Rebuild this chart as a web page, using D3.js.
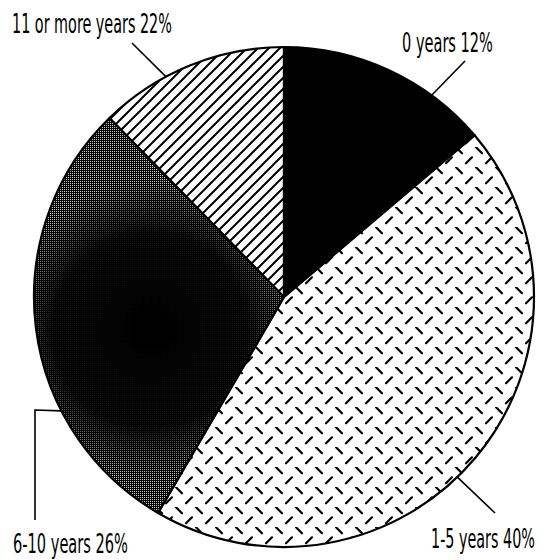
<!DOCTYPE html>
<html>
<head>
<meta charset="utf-8">
<script src="https://cdn.jsdelivr.net/npm/d3@7"></script>
<style>
  body { margin: 0; background: #fff; }
  svg { display: block; }
  .label { font-family: "Liberation Sans Narrow", "DejaVu Sans Condensed", "Roboto", sans-serif; font-size: 27px; fill: #000; }
</style>
</head>
<body>
<script>
var width = 547, height = 560;
var cx = 284, cy = 297, radius = 250;

// categories and the percentages printed on the labels
var categories = ['0 years', '1-5 years', '6-10 years', '11 or more years'];
var labelPercents = [12, 40, 26, 22];
// share of the circle each slice actually takes in the picture
var sliceShares = [13.8, 44.6, 29.3, 12.3];

var fills = ['#000', 'url(#dashes)', 'url(#halftone)', 'url(#stripes)'];

// label layout: angle (deg, clockwise from top) where the leader touches the rim,
// the leader's outer end, and the text box
var labelLayout = [
  {angle: 36.2, out: [[465, 61]], tx: 402, ty: 52, tw: 91},
  {angle: 136.1, out: [[495, 513]], tx: 431, ty: 548, tw: 104},
  {angle: 242.9, out: [[35, 410], [35, 520]], tx: 13, ty: 553, tw: 115},
  {angle: 331.8, out: [[132, 43]], tx: 12, ty: 33, tw: 160}
];

var svg = d3.select('body').append('svg')
    .attr('width', width)
    .attr('height', height);

var defs = svg.append('defs');

// dashed "diamond plate" fill for 1-5 years
var dashes = defs.append('pattern')
    .attr('id', 'dashes')
    .attr('patternUnits', 'userSpaceOnUse')
    .attr('width', 20).attr('height', 20)
    .attr('x', 0).attr('y', 10);
dashes.append('rect').attr('width', 20).attr('height', 20).attr('fill', '#fff');
dashes.append('line')
    .attr('x1', 12).attr('y1', 0.3).attr('x2', 18).attr('y2', 6.3)
    .attr('stroke', '#000').attr('stroke-width', 2.2).attr('stroke-linecap', 'round');
dashes.append('line')
    .attr('x1', 2).attr('y1', 16.3).attr('x2', 8).attr('y2', 10.3)
    .attr('stroke', '#000').attr('stroke-width', 2.2).attr('stroke-linecap', 'round');

// "/" hatching for 11 or more years
var hs = 11;
var stripes = defs.append('pattern')
    .attr('id', 'stripes')
    .attr('patternUnits', 'userSpaceOnUse')
    .attr('width', hs).attr('height', hs);
stripes.append('rect').attr('width', hs).attr('height', hs).attr('fill', '#fff');
stripes.append('path')
    .attr('d', 'M-1,' + (hs + 1) + 'L' + (hs + 1) + ',-1 M-1,1 L1,-1 M' + (hs - 1) + ',' + (hs + 1) + 'L' + (hs + 1) + ',' + (hs - 1))
    .attr('stroke', '#000').attr('stroke-width', 2);

// halftone checker for 6-10 years
var halftone = defs.append('pattern')
    .attr('id', 'halftone')
    .attr('patternUnits', 'userSpaceOnUse')
    .attr('width', 2).attr('height', 2);
halftone.append('rect').attr('width', 2).attr('height', 2).attr('fill', '#000');
halftone.append('rect').attr('x', 0).attr('y', 0).attr('width', 1).attr('height', 1).attr('fill', '#eee');

var blob = defs.append('radialGradient')
    .attr('id', 'blob')
    .attr('gradientUnits', 'userSpaceOnUse')
    .attr('cx', 150).attr('cy', 330).attr('r', 150);
blob.append('stop').attr('offset', '0%').attr('stop-color', '#000').attr('stop-opacity', 1);
blob.append('stop').attr('offset', '65%').attr('stop-color', '#000').attr('stop-opacity', 0.9);
blob.append('stop').attr('offset', '100%').attr('stop-color', '#000').attr('stop-opacity', 0.15);

var pie = d3.pie().sort(null).value(function(d) { return d; });
var arcs = pie(sliceShares);
var arc = d3.arc().innerRadius(0).outerRadius(radius);

var g = svg.append('g').attr('transform', 'translate(' + cx + ',' + cy + ')');

defs.append('clipPath').attr('id', 'darkclip')
  .append('path')
    .attr('d', arc(arcs[2]))
    .attr('transform', 'translate(' + cx + ',' + cy + ')');

g.selectAll('.slice')
    .data(arcs)
    .enter().append('path')
    .attr('class', 'slice')
    .attr('d', arc)
    .attr('fill', function(d, i) { return fills[i]; });

// darker core of the halftone slice
svg.append('rect')
    .attr('width', width).attr('height', height)
    .attr('fill', 'url(#blob)')
    .attr('clip-path', 'url(#darkclip)');

svg.append('g').attr('transform', 'translate(' + cx + ',' + cy + ')')
  .selectAll('.edge')
    .data(arcs)
    .enter().append('path')
    .attr('class', 'edge')
    .attr('d', arc)
    .attr('fill', 'none')
    .attr('stroke', '#000')
    .attr('stroke-width', 2.2)
    .attr('stroke-linejoin', 'round');

// leaders and labels
var rad = Math.PI / 180;
labelLayout.forEach(function(l, i) {
  var p0 = [cx + radius * Math.sin(l.angle * rad), cy - radius * Math.cos(l.angle * rad)];
  var pts = [p0].concat(l.out);
  svg.append('path')
      .attr('d', d3.line()(pts))
      .attr('fill', 'none')
      .attr('stroke', '#000')
      .attr('stroke-width', 1.6);
  var t = svg.append('text')
      .attr('class', 'label')
      .text(categories[i] + ' ' + labelPercents[i] + '%');
  var sx = l.tw / t.node().getComputedTextLength();
  t.attr('transform', 'translate(' + l.tx + ',' + l.ty + ') scale(' + sx + ',1)');
});
</script>
</body>
</html>
